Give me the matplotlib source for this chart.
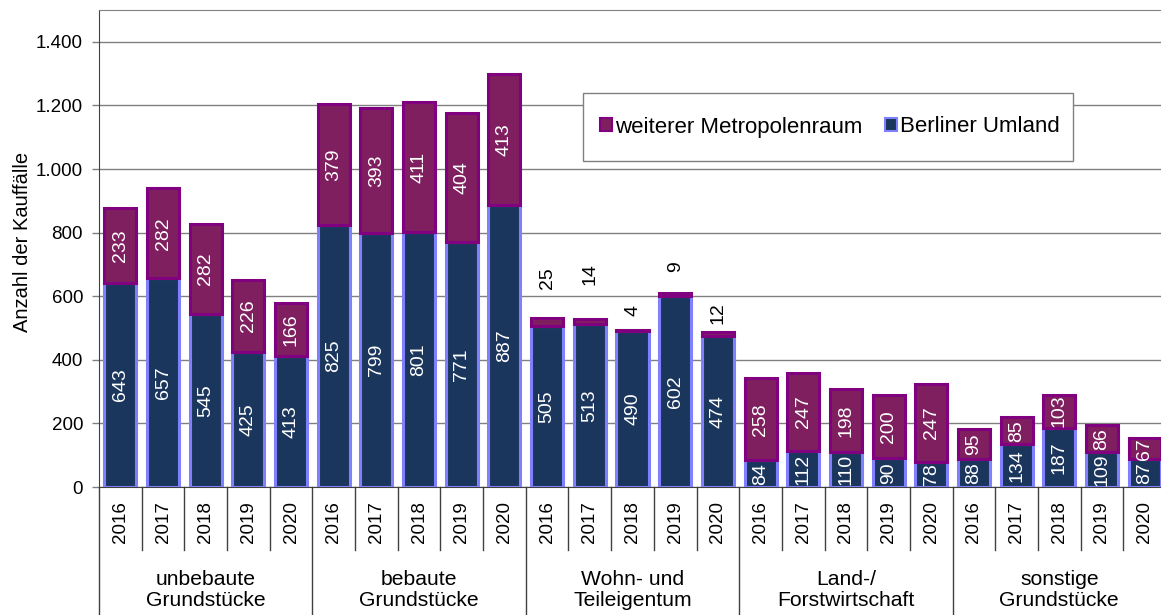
import numpy as np
import matplotlib
matplotlib.use("Agg")
import matplotlib.pyplot as plt
from matplotlib.patches import Patch, Rectangle

plt.rcParams['font.family'] = ['Liberation Sans', 'DejaVu Sans']

# data
years = ['2016', '2017', '2018', '2019', '2020']
groups = ['unbebaute\nGrundstücke', 'bebaute\nGrundstücke', 'Wohn- und\nTeileigentum',
          'Land-/\nForstwirtschaft', 'sonstige\nGrundstücke']
umland = [643, 657, 545, 425, 413,
          825, 799, 801, 771, 887,
          505, 513, 490, 602, 474,
          84, 112, 110, 90, 78,
          88, 134, 187, 109, 87]
weiter = [233, 282, 282, 226, 166,
          379, 393, 411, 404, 413,
          25, 14, 4, 9, 12,
          258, 247, 198, 200, 247,
          95, 85, 103, 86, 67]
# small labels in Wohn-/Teileigentum sit above the bar (offset in points)
above_off = [29, 33, 14, 19, 14]

navy = '#1B365D'
navy_edge = '#8080FF'
plum = '#7F1F5F'
plum_edge = '#800080'

W, H = 1161, 615
fig = plt.figure(figsize=(W / 100, H / 100), dpi=100)
ax = fig.add_axes([99 / W, 128 / H, 1067 / W, 477 / H])

n = len(umland)
x = np.arange(n)
bw = 0.75
ax.bar(x, umland, bw, color=navy, edgecolor=navy_edge, linewidth=2.2, zorder=3)
ax.bar(x, weiter, bw, bottom=umland, color=plum, edgecolor=plum_edge, linewidth=2.2, zorder=3)

fs = 14
for i in range(n):
    ax.text(x[i], umland[i] / 2, str(umland[i]), rotation=90, ha='center', va='center',
            color='white', fontsize=fs, zorder=4)
    if 10 <= i < 15:
        ax.annotate(str(weiter[i]), (x[i], umland[i] + weiter[i]), xytext=(0, above_off[i - 10]),
                    textcoords='offset points', rotation=90, ha='center', va='center',
                    color='black', fontsize=fs, zorder=4)
    else:
        ax.text(x[i], umland[i] + weiter[i] / 2, str(weiter[i]), rotation=90, ha='center',
                va='center', color='white', fontsize=fs, zorder=4)

ax.set_xlim(-0.5, n - 0.5)
ax.set_ylim(0, 1500)
yt = np.arange(0, 1401, 200)
ax.set_yticks(yt)
ax.set_yticklabels([f"{v:,.0f}".replace(',', '.') for v in yt], fontsize=13.5)
ax.tick_params(axis='y', length=5, width=1, pad=6.5, color='#808080')
ax.yaxis.grid(True, color='#808080', linewidth=1.0, zorder=0)
ax.set_axisbelow(True)
ax.set_xticks([])
ax.spines['right'].set_visible(False)
ax.spines['top'].set_color('#808080')
ax.spines['left'].set_color('#404040')
ax.spines['bottom'].set_color('#404040')

# multi-level category axis
tr = ax.get_xaxis_transform()
for i in range(n):
    ax.text(x[i], -0.073, years[i % 5], rotation=90, ha='center', va='center',
            fontsize=13.5, transform=tr)
for k in range(n + 1):
    bottom = -0.268 if k % 5 == 0 else -0.132
    ax.plot([k - 0.5, k - 0.5], [0, bottom], color='#404040',
            linewidth=1.0, transform=tr, clip_on=False)
for g in range(len(groups)):
    ax.text(g * 5 + 2, -0.216, groups[g], ha='center', va='center', fontsize=15.2,
            linespacing=1.15, transform=tr)

fig.text(23 / W, 1 - 242 / H, 'Anzahl der Kauffälle', rotation=90, ha='center',
         va='center', fontsize=14.5)

# legend
fig.patches.append(Rectangle((583 / W, 1 - 161 / H), 490 / W, 68 / H, transform=fig.transFigure,
                             facecolor='white', edgecolor='#808080', linewidth=1.0, zorder=5))
handles = [Patch(facecolor=plum, edgecolor=plum_edge, linewidth=1.5),
           Patch(facecolor=navy, edgecolor=navy_edge, linewidth=1.5)]
leg = fig.legend(handles, ['weiterer Metropolenraum', 'Berliner Umland'], loc='center',
                 bbox_to_anchor=(830 / W, 1 - 127 / H), ncol=2, frameon=False, fontsize=16,
                 handlelength=0.55, handleheight=0.55, handletextpad=0.15, columnspacing=1.0)
leg.set_zorder(6)

fig.savefig('out.png', dpi=100)
